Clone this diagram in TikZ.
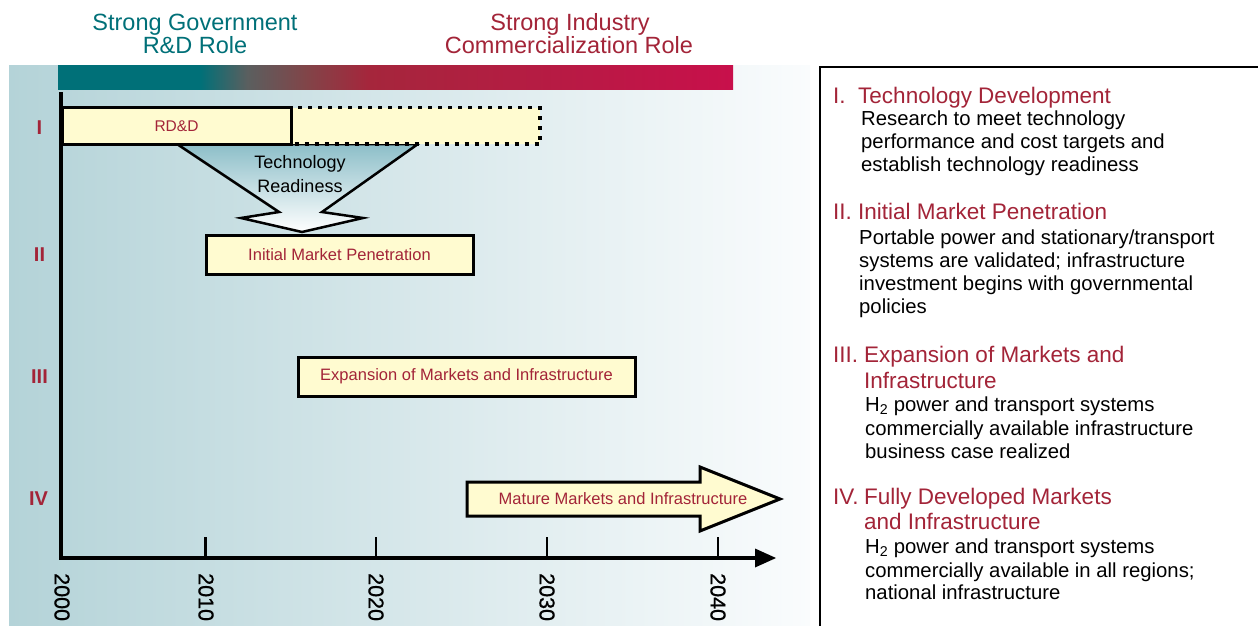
\documentclass[tikz,border=0pt]{standalone}
\usepackage{fontspec}
\setmainfont{Liberation Sans}
\newfontfamily\yearfont[FakeBold=0.8]{Liberation Sans}
\newcommand\setfs[2]{\fontsize{#1}{#2}\selectfont}
\definecolor{tealc}{RGB}{0,112,120}
\definecolor{crim}{RGB}{163,36,56}
\definecolor{crimA}{RGB}{165,38,60}
\definecolor{crimB}{RGB}{200,16,75}
\definecolor{midg}{RGB}{90,95,95}
\definecolor{brwn}{RGB}{130,68,72}
\definecolor{boxfill}{RGB}{255,251,208}
\definecolor{bgL}{RGB}{180,211,216}
\definecolor{bgR}{RGB}{250,252,253}
\definecolor{funT}{RGB}{140,190,200}
\definecolor{funM}{RGB}{205,228,232}
\pgfdeclarehorizontalshading{rolebar}{100bp}{color(0bp)=(tealc); color(35.5bp)=(tealc); color(39bp)=(midg); color(43.5bp)=(brwn); color(48bp)=(crimA); color(75bp)=(crimB); color(100bp)=(crimB)}
\begin{document}
\begin{tikzpicture}[x=1pt,y=-1pt,
  hdr/.style={anchor=base, inner sep=0, font=\setfs{23.5}{26}},
  roman/.style={inner sep=0, text=crim, font=\setfs{20}{22}\bfseries},
  phase/.style={draw=black, line width=3, fill=boxfill, inner sep=0, text=crim, font=\setfs{16.5}{20}},
  yearlbl/.style={anchor=west, rotate=-90, inner sep=0, font=\yearfont\setfs{21.5}{24}},
  hd/.style={anchor=base west, inner sep=0, text=crim, font=\setfs{22.5}{25}},
  bd/.style={anchor=base west, inner sep=0, text=black, font=\setfs{20.3}{23}},
  axisline/.style={line width=4, line join=miter},
  tick/.style={line width=2.5}
]
\useasboundingbox (0,0) rectangle (1258,626);
\fill[white] (0,0) rectangle (1258,626);
% background gradient
\shade[left color=bgL, right color=bgR] (9,66) rectangle (810,626);
% role bar
\shade[shading=rolebar] (58,66) rectangle (733,89);
% header texts
\node[hdr, text=tealc] (g1) at (195,31) {Strong Government};
\node[hdr, text=tealc] (g2) at (195,53) {R\&D Role};
\node[hdr, text=crim] (i1) at (570,31) {Strong Industry};
\node[hdr, text=crim] (i2) at (569,53) {Commercialization Role};
% right panel frame
\draw[line width=2.5] (820,626) -- (820,67) -- (1258,67);
% technology readiness funnel
\draw[line width=2.5, line join=miter, top color=funT, middle color=funM, bottom color=white]
  (177,144) -- (418,144) -- (322,212) -- (363,218) -- (302,232) -- (241,218) -- (279,212) -- cycle;
\node[inner sep=0, anchor=base, font=\setfs{18}{24}] (tr1) at (300,168) {Technology};
\node[inner sep=0, anchor=base, font=\setfs{18}{24}] (tr2) at (300,192) {Readiness};
% RD&D bar
\draw[line width=3.5, dash pattern=on 4pt off 6pt, fill=boxfill] (291,107.5) rectangle (540,144);
\node[phase, minimum width=229, minimum height=36.5, font=\setfs{15.5}{18}] (rdd) at (176.5,125.75) {RD\&D};
% phases
\node[phase, minimum width=267, minimum height=39] (imp) at (339.5,254.5) {Initial Market Penetration};
\node[phase, minimum width=337, minimum height=39] (emi) at (466.5,376.5) {Expansion of Markets and Infrastructure};
\draw[line width=3, line join=miter, fill=boxfill]
  (467,482) -- (700,482) -- (700,467) -- (780,499) -- (700,531) -- (700,516) -- (467,516) -- cycle;
\node[inner sep=0, text=crim, font=\setfs{16.5}{20}] (mmi) at (623,499) {Mature Markets and Infrastructure};
% roman numerals
\node[roman] (r1) at (39.5,128) {I};
\node[roman] (r2) at (39.5,254.5) {II};
\node[roman] (r3) at (39.5,376.5) {III};
\node[roman] (r4) at (38.5,499) {IV};
% axes
\coordinate (ytop) at (61,92);
\coordinate (orig) at (61,558);
\coordinate (xend) at (757,558);
\draw[axisline] (ytop) -- (orig) -- (xend);
\fill (755,548.5) -- (776,558) -- (755,567.5) -- cycle;
\foreach \x in {205.5,376,547,718} \draw[tick] (\x,537) -- (\x,558);
\foreach \x/\yr in {62/2000,206/2010,376/2020,547/2030,718/2040}
  \node[yearlbl] (y\yr) at (\x,573) {\yr};
% right panel text
\node[hd] (h1n) at (833,103) {I.};
\node[hd] (h1) at (858,103) {Technology Development};
\node[bd] (b1a) at (861,125) {Research to meet technology};
\node[bd] (b1b) at (861,148) {performance and cost targets and};
\node[bd] (b1c) at (861,171) {establish technology readiness};
\node[hd] (h2n) at (833,219) {II.};
\node[hd] (h2) at (858,219) {Initial Market Penetration};
\node[bd] (b2a) at (859,244) {Portable power and stationary/transport};
\node[bd] (b2b) at (859,267) {systems are validated; infrastructure};
\node[bd] (b2c) at (859,290) {investment begins with governmental};
\node[bd] (b2d) at (859,313) {policies};
\node[hd] (h3n) at (833,362) {III.};
\node[hd] (h3a) at (864,362) {Expansion of Markets and};
\node[hd] (h3b) at (864,388) {Infrastructure};
\node[bd] (b3a) at (865,411) {H\textsubscript{2} power and transport systems};
\node[bd] (b3b) at (865,435) {commercially available infrastructure};
\node[bd] (b3c) at (865,458) {business case realized};
\node[hd] (h4n) at (833,504) {IV.};
\node[hd] (h4a) at (864,504) {Fully Developed Markets};
\node[hd] (h4b) at (864,529) {and Infrastructure};
\node[bd] (b4a) at (865,553) {H\textsubscript{2} power and transport systems};
\node[bd] (b4b) at (865,577) {commercially available in all regions;};
\node[bd] (b4c) at (865,599) {national infrastructure};
\end{tikzpicture}
\end{document}
